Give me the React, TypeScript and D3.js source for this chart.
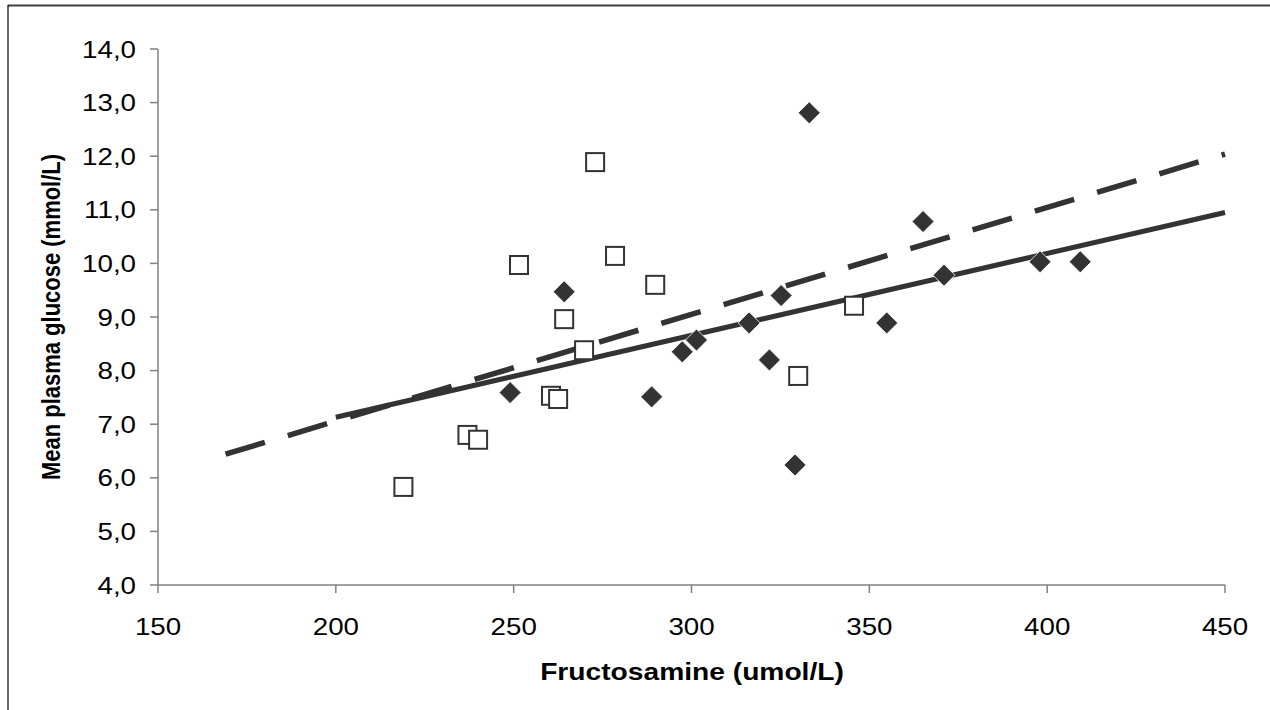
import React from "react";
import * as d3 from "d3";

const squareX = [219, 237, 240, 251.5, 260.5, 262.5, 264.2, 269.8, 272.9, 278.5, 289.8, 330, 345.7];
const squareY = [5.83, 6.8, 6.71, 9.97, 7.53, 7.47, 8.96, 8.38, 11.89, 10.14, 9.6, 7.9, 9.21];

const diamondX = [249, 264.2, 288.8, 297.4, 301.4, 316.2, 325.2, 321.9, 329.1, 333.1, 354.9, 365.1, 371, 398, 409.3];
const diamondY = [7.59, 9.47, 7.51, 8.35, 8.57, 8.89, 9.4, 8.2, 6.24, 12.81, 8.89, 10.78, 9.78, 10.03, 10.03];

const solidLineX = [200, 450];
const solidLineY = [7.13, 10.95];
const dashedLineX = [169, 450];
const dashedLineY = [6.44, 12.04];

const xTicks = [150, 200, 250, 300, 350, 400, 450];
const yTicks = [4, 5, 6, 7, 8, 9, 10, 11, 12, 13, 14];

const xTitle = "Fructosamine (umol/L)";
const yTitle = "Mean plasma glucose (mmol/L)";

export default function App() {
  const W = 1270, H = 710;
  const x = d3.scaleLinear().domain([150, 450]).range([158, 1225]);
  const y = d3.scaleLinear().domain([4, 14]).range([585, 49]);
  const ink = "#333333";
  const axisCol = "#808080";
  const font = "'Liberation Sans', Arial, sans-serif";
  const fs = 23.5;
  const k = 1.18;
  const line = d3.line<[number, number]>().x(d => x(d[0])).y(d => y(d[1]));
  const solid: [number, number][] = solidLineX.map((v, i) => [v, solidLineY[i]]);
  const dashed: [number, number][] = dashedLineX.map((v, i) => [v, dashedLineY[i]]);
  const fmt = (v: number) => v.toFixed(1).replace(".", ",");

  return (
    <svg width={W} height={H} style={{ position: "absolute", left: 0, top: 0, background: "#fff" }}>
      <rect x={0} y={0} width={W} height={H} fill="#fff" />
      {/* frame */}
      <line x1={8} x2={W} y1={5.5} y2={5.5} stroke="#404040" strokeWidth={2} />
      <line x1={8} x2={8} y1={5} y2={H} stroke="#000" strokeWidth={1.2} />

      {/* axes */}
      <line x1={x(150)} x2={x(150)} y1={y(14)} y2={y(4)} stroke={axisCol} strokeWidth={1.5} />
      <line x1={x(150)} x2={x(450)} y1={y(4)} y2={y(4)} stroke={axisCol} strokeWidth={1.5} />
      {yTicks.map(t => (
        <g key={"y" + t}>
          <line x1={x(150) - 8} x2={x(150)} y1={y(t)} y2={y(t)} stroke={axisCol} strokeWidth={1.5} />
          <text transform={`translate(${x(150) - 22},${y(t) + 8.5}) scale(${k},1)`} textAnchor="end" fontFamily={font} fontSize={fs} fill="#000">
            {fmt(t)}
          </text>
        </g>
      ))}
      {xTicks.map(t => (
        <g key={"x" + t}>
          <line x1={x(t)} x2={x(t)} y1={y(4)} y2={y(4) + 8} stroke={axisCol} strokeWidth={1.5} />
          <text transform={`translate(${x(t)},635) scale(${k},1)`} textAnchor="middle" fontFamily={font} fontSize={fs} fill="#000">
            {t}
          </text>
        </g>
      ))}

      {/* trend lines */}
      <path d={line(dashed) || ""} fill="none" stroke={ink} strokeWidth={5.5} strokeDasharray="41,24" />
      <path d={line(solid) || ""} fill="none" stroke={ink} strokeWidth={5} />

      {/* squares */}
      {squareX.map((v, i) => (
        <rect key={"s" + i} x={x(v) - 9} y={y(squareY[i]) - 9} width={18} height={18} fill="#fff" stroke={ink} strokeWidth={2} />
      ))}
      {/* diamonds */}
      {diamondX.map((v, i) => {
        const cx = x(v), cy = y(diamondY[i]), r = 11;
        return (
          <path key={"d" + i} d={`M${cx},${cy - r}L${cx + r},${cy}L${cx},${cy + r}L${cx - r},${cy}Z`} fill={ink} stroke="#fff" strokeWidth={0.8} />
        );
      })}

      {/* titles */}
      <text transform={`translate(692,680) scale(1.2,1)`} textAnchor="middle" fontFamily={font} fontSize={fs} fontWeight="bold" fill="#000">
        {xTitle}
      </text>
      <text transform={`translate(60,317) rotate(-90) scale(1,1.2)`} textAnchor="middle" fontFamily={font} fontSize={22} fontWeight="bold" fill="#000">
        {yTitle}
      </text>
    </svg>
  );
}
